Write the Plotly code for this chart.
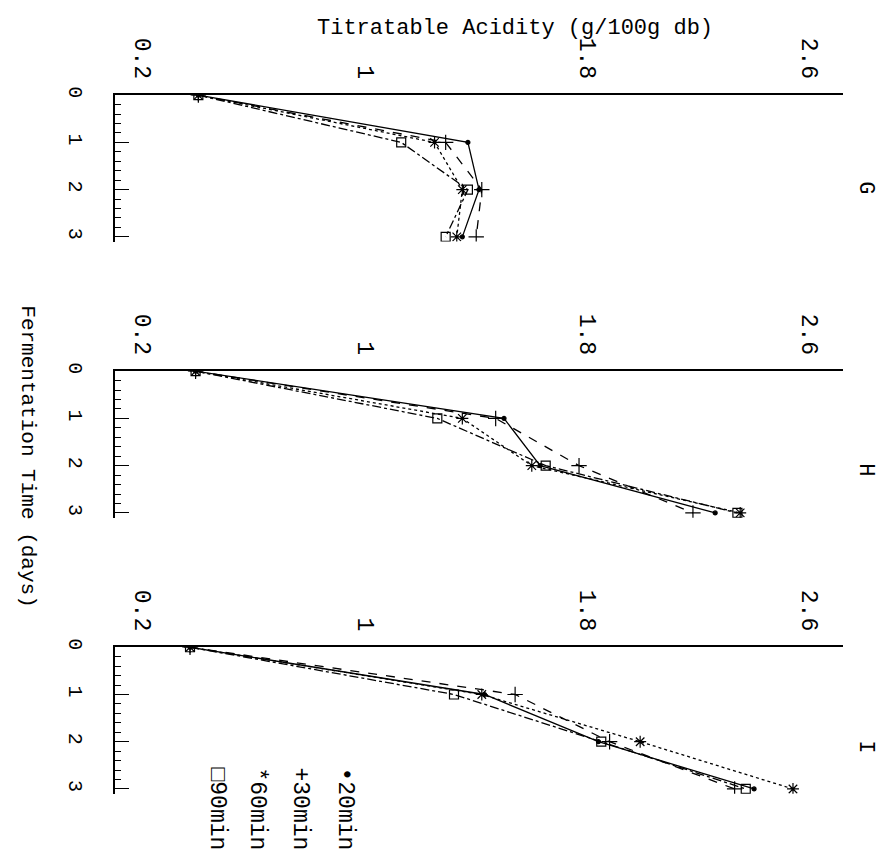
import plotly.graph_objects as go

days = [0, 1, 2, 3]
x_ticks = [0.2, 1, 1.8, 2.6]
x_tick_labels = ["0.2", "1", "1.8", "2.6"]
y_ticks = [0, 1, 2, 3]
panels = ["G", "H", "I"]
series_names = ["20min", "30min", "60min", "90min"]

G_20 = [0.40, 1.37, 1.41, 1.35]
G_30 = [0.40, 1.29, 1.42, 1.40]
G_60 = [0.40, 1.25, 1.35, 1.33]
G_90 = [0.40, 1.13, 1.37, 1.29]
H_20 = [0.39, 1.50, 1.63, 2.26]
H_30 = [0.39, 1.47, 1.77, 2.18]
H_60 = [0.39, 1.35, 1.60, 2.35]
H_90 = [0.39, 1.26, 1.65, 2.34]
I_20 = [0.37, 1.43, 1.84, 2.40]
I_30 = [0.37, 1.54, 1.88, 2.33]
I_60 = [0.37, 1.42, 1.99, 2.54]
I_90 = [0.37, 1.32, 1.85, 2.37]

data = {
    "G": [G_20, G_30, G_60, G_90],
    "H": [H_20, H_30, H_60, H_90],
    "I": [I_20, I_30, I_60, I_90],
}

# page has an 8px body margin; figure sized to fit the 890x865 window
OFF = 8
W, H = 890 - 2 * OFF, 865 - 2 * OFF
FONT = "Liberation Mono"

def px(x):
    return (x - OFF) / W

def py(y):
    return 1 - (y - OFF) / H

styles = [
    dict(dash="solid", symbol="circle", size=4),
    dict(dash="dash", symbol="cross-thin-open", size=11),
    dict(dash="dot", symbol="asterisk-open", size=10),
    dict(dash="dashdot", symbol="square-open", size=9),
]

panel_top = {"G": 87, "H": 366, "I": 645}
panel_h = 148
letter_y = {"G": 180, "H": 465, "I": 745}

fig = go.Figure()
layout = {}
for i, p in enumerate(panels):
    n = "" if i == 0 else str(i + 1)
    for s, vals in enumerate(data[p]):
        st = styles[s]
        fig.add_trace(go.Scatter(
            x=vals, y=days, xaxis="x" + n, yaxis="y" + n,
            mode="lines+markers", name=series_names[s], showlegend=False,
            line=dict(color="black", width=1.3, dash=st["dash"]),
            marker=dict(symbol=st["symbol"], size=st["size"], color="black",
                        line=dict(color="black", width=1.2)),
        ))
    top = panel_top[p]
    layout["xaxis" + n] = dict(
        domain=[px(115), px(843)], range=[0.1, 2.72], side="top",
        anchor="y" + n, tickvals=x_ticks, ticktext=x_tick_labels,
        tickangle=90, showline=True, linecolor="black", linewidth=2,
        showgrid=False, zeroline=False, ticks="",
        tickfont=dict(family=FONT, size=23, color="black"),
        ticklabelstandoff=6,
    )
    layout["yaxis" + n] = dict(
        domain=[py(top + panel_h), py(top)], range=[3.1, 0],
        anchor="x" + n, tickvals=y_ticks, tickangle=90,
        showline=True, linecolor="black", linewidth=2,
        showgrid=False, zeroline=False, ticks="inside", ticklen=14,
        tickcolor="black", tickwidth=1.2,
        minor=dict(dtick=0.2, ticks="inside", ticklen=6, tickcolor="black",
                   tickwidth=1, showgrid=False),
        tickfont=dict(family=FONT, size=20, color="black"),
        ticklabelstandoff=20,
    )

annotations = [
    dict(text="Titratable Acidity (g/100g db)", x=px(515), y=py(20),
         xref="paper", yref="paper", showarrow=False,
         xanchor="center", yanchor="middle",
         font=dict(family=FONT, size=22, color="black")),
    dict(text="Fermentation Time (days)", x=px(28), y=py(452),
         xref="paper", yref="paper", showarrow=False, textangle=90,
         xanchor="center", yanchor="middle",
         font=dict(family=FONT, size=21, color="black")),
]
for p in panels:
    annotations.append(dict(text=p, x=px(866), y=py(letter_y[p]),
                            xref="paper", yref="paper", showarrow=False,
                            textangle=90, xanchor="center", yanchor="middle",
                            font=dict(family=FONT, size=22, color="black")))

legend_labels = ["\u25a190min", "*60min", "+30min", "\u202220min"]
legend_x = [217, 257, 300, 345]
for lab, lx in zip(legend_labels, legend_x):
    annotations.append(dict(text=lab, x=px(lx), y=py(808),
                            xref="paper", yref="paper", showarrow=False,
                            textangle=90, xanchor="center", yanchor="middle",
                            font=dict(family=FONT, size=23, color="black")))

fig.update_layout(
    width=W, height=H, margin=dict(l=0, r=0, t=0, b=0),
    paper_bgcolor="white", plot_bgcolor="white",
    annotations=annotations, showlegend=False, **layout,
)
fig.write_html("out.html")
